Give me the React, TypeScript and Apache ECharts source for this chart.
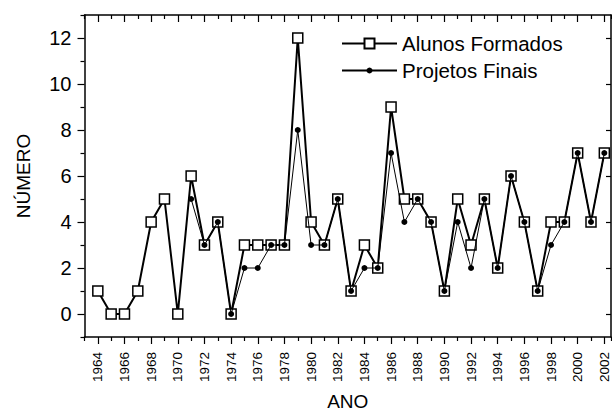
import React, { useEffect, useRef } from "react";
import * as echarts from "echarts";

const years = [
  1964, 1965, 1966, 1967, 1968, 1969, 1970, 1971, 1972, 1973, 1974, 1975, 1976,
  1977, 1978, 1979, 1980, 1981, 1982, 1983, 1984, 1985, 1986, 1987, 1988, 1989,
  1990, 1991, 1992, 1993, 1994, 1995, 1996, 1997, 1998, 1999, 2000, 2001, 2002,
];
const alunosFormados = [
  1, 0, 0, 1, 4, 5, 0, 6, 3, 4, 0, 3, 3, 3, 3, 12, 4, 3, 5, 1, 3, 2, 9, 5, 5, 4,
  1, 5, 3, 5, 2, 6, 4, 1, 4, 4, 7, 4, 7,
];
const projetosFinais = [
  null, null, null, null, null, null, null, 5, 3, 4, 0, 2, 2, 3, 3, 8, 3, 3, 5,
  1, 2, 2, 7, 4, 5, 4, 1, 4, 2, 5, 2, 6, 4, 1, 3, 4, 7, 4, 7,
];
// axis ranges and tick steps
const xRange = [1963, 2002.5];
const xLabelRange = [1964, 2002];
const yRange = [-1, 13];
const yLabelRange = [0, 12];
const tickStep = 2;

const FONT = "Liberation Sans, Arial, sans-serif";
const INK = "#000";

export default function App() {
  const ref = useRef<HTMLDivElement>(null);
  useEffect(() => {
    if (!ref.current) return;
    const chart = echarts.init(ref.current, undefined, { renderer: "svg" });

    const W = 612;
    const H = 410;
    const L = 84.5;
    const R = 1;
    const T = 15;
    const B = 73;
    const pxPerYear = (W - L - R) / (xRange[1] - xRange[0]);
    const pxPerUnit = (H - T - B) / (yRange[1] - yRange[0]);
    const majorLen = 7;
    const minorLen = 4;
    const rightLen = 5;

    const splitStyle = { show: true, lineStyle: { color: INK, width: 1.2 } };
    const axisLine = { show: true, onZero: false, lineStyle: { color: INK, width: 1.5 } };
    const hidden = (range: number[]) => ({
      type: "value",
      show: false,
      min: range[0],
      max: range[1],
      splitLine: { show: false },
    });

    const xMajL = L + (xLabelRange[0] - xRange[0]) * pxPerYear;
    const xMajR = R + (xRange[1] - xLabelRange[1]) * pxPerYear;
    const yMajT = T + (yRange[1] - yLabelRange[1]) * pxPerUnit;
    const yMajB = B + (yLabelRange[0] - yRange[0]) * pxPerUnit;

    const grids: any[] = [];
    const xAxes: any[] = [];
    const yAxes: any[] = [];

    // 0: main plot
    grids.push({ left: L, right: R, top: T, bottom: B, outerBoundsMode: "none", containLabel: false });
    xAxes.push({
      type: "value", gridIndex: 0, position: "bottom", min: xRange[0], max: xRange[1],
      splitLine: { show: false }, axisLine, axisTick: { show: false }, axisLabel: { show: false },
      name: "ANO", nameLocation: "middle", nameGap: 56,
      nameTextStyle: { fontSize: 19, lineHeight: 16, fontFamily: FONT, color: INK },
    });
    xAxes.push({
      type: "value", gridIndex: 0, position: "top", min: xRange[0], max: xRange[1],
      splitLine: { show: false }, axisLine, axisTick: { show: false }, axisLabel: { show: false },
    });
    yAxes.push({
      type: "value", gridIndex: 0, position: "left", min: yRange[0], max: yRange[1],
      splitLine: { show: false }, axisLine, axisTick: { show: false }, axisLabel: { show: false },
      name: "NÚMERO", nameLocation: "middle", nameGap: 52, nameRotate: 90,
      nameTextStyle: { fontSize: 19, fontFamily: FONT, color: INK },
    });
    yAxes.push({
      type: "value", gridIndex: 0, position: "right", min: yRange[0], max: yRange[1],
      splitLine: { show: false }, axisLine, axisTick: { show: false }, axisLabel: { show: false },
    });

    // tick strips drawn as split lines of small grids
    const addXStrip = (left: number, right: number, top: number, len: number, range: number[], label: boolean) => {
      const gi = grids.length;
      grids.push({ left, right, top, height: len, outerBoundsMode: "none", containLabel: false });
      xAxes.push({
        type: "value", gridIndex: gi, position: "bottom", min: range[0], max: range[1], interval: tickStep,
        axisLine: { show: false, onZero: false }, axisTick: { show: false }, splitLine: splitStyle,
        axisLabel: label
          ? { show: true, rotate: 90, margin: 8, fontSize: 13.5, fontFamily: FONT, color: INK, formatter: (v: number) => String(v) }
          : { show: false },
      });
      yAxes.push({ ...hidden([0, 1]), gridIndex: gi });
    };
    const addYStrip = (left: number, width: number, top: number, bottom: number, range: number[], label: boolean) => {
      const gi = grids.length;
      grids.push({ left, width, top, bottom, outerBoundsMode: "none", containLabel: false });
      xAxes.push({ ...hidden([0, 1]), gridIndex: gi });
      yAxes.push({
        type: "value", gridIndex: gi, position: "left", min: range[0], max: range[1], interval: tickStep,
        axisLine: { show: false, onZero: false }, axisTick: { show: false }, splitLine: splitStyle,
        axisLabel: label
          ? { show: true, margin: 6, fontSize: 20, fontFamily: FONT, color: INK }
          : { show: false },
      });
    };

    const bottomY = H - B;
    // bottom ticks (outward)
    addXStrip(xMajL, xMajR, bottomY, majorLen, xLabelRange, true);
    addXStrip(L, R, bottomY, minorLen, xRange, false);
    // top ticks (inward)
    addXStrip(xMajL, xMajR, T, majorLen, xLabelRange, false);
    addXStrip(L, R, T, minorLen, xRange, false);
    // left ticks (outward)
    addYStrip(L - majorLen, majorLen, yMajT, yMajB, yLabelRange, true);
    addYStrip(L - minorLen, minorLen, T, B, yRange, false);
    // right ticks (inward, major only)
    addYStrip(W - R - rightLen, rightLen, yMajT, yMajB, yLabelRange, false);

    const alunosData = years.map((y, i) => [y, alunosFormados[i]]);
    const projetosData = years
      .map((y, i) => [y, projetosFinais[i]])
      .filter((d) => d[1] !== null);

    chart.setOption({
      animation: false,
      backgroundColor: "#fff",
      textStyle: { fontFamily: FONT, color: INK },
      grid: grids,
      xAxis: xAxes,
      yAxis: yAxes,
      legend: [
        {
          data: ["Alunos Formados"],
          left: 341,
          top: 33,
          padding: 0,
          itemWidth: 55,
          itemHeight: 12.5,
          textStyle: { fontSize: 20.5, fontFamily: FONT, color: INK, lineHeight: 20 },
        },
        {
          data: ["Projetos Finais"],
          left: 341,
          top: 60,
          padding: 0,
          itemWidth: 55,
          itemHeight: 7.5,
          textStyle: { fontSize: 20.5, fontFamily: FONT, color: INK, lineHeight: 20 },
        },
      ],
      series: [
        {
          name: "Alunos Formados",
          type: "line",
          xAxisIndex: 0,
          yAxisIndex: 0,
          data: alunosData,
          symbol: "rect",
          symbolSize: 10,
          showAllSymbol: true,
          itemStyle: { color: "#fff", borderColor: INK, borderWidth: 1.5 },
          lineStyle: { color: INK, width: 2 },
          z: 2,
        },
        {
          name: "Projetos Finais",
          type: "line",
          xAxisIndex: 0,
          yAxisIndex: 0,
          data: projetosData,
          symbol: "circle",
          symbolSize: 6,
          showAllSymbol: true,
          itemStyle: { color: INK, borderWidth: 0 },
          lineStyle: { color: INK, width: 1 },
          z: 3,
        },
      ],
    });
    return () => chart.dispose();
  }, []);
  return (
    <div
      ref={ref}
      style={{ position: "fixed", left: 0, top: 0, width: 612, height: 410 }}
    />
  );
}
